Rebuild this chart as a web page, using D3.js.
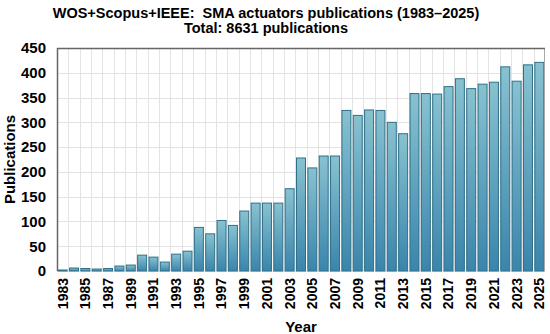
<!DOCTYPE html>
<meta charset="utf-8">
<style>
body { margin: 0; background: #fff; }
text { font-family: "Liberation Sans", Arial, sans-serif; font-weight: bold; fill: #000; }
.grid line { stroke: #e3e3e3; stroke-width: 1px; shape-rendering: crispEdges; }
.bar { stroke: #2f6f88; stroke-width: 1px; }
</style>
<body>
<div id="chart"></div>
<script src="https://cdn.jsdelivr.net/npm/d3@7"></script>
<script>
var years = d3.range(1983, 2026);
var counts = [2, 6, 5, 4, 5, 10, 12,
  32, 28, 18, 34, 40,
  88, 75, 102, 92, 121,
  137, 137, 137, 166, 228,
  208, 232, 232, 324, 314,
  325, 324, 300, 277, 358,
  358, 357, 372, 388, 368,
  377, 381, 412, 383, 416, 421];
var yTicks = [0, 50, 100, 150, 200, 250, 300, 350, 400, 450];
var titleLines = ["WOS+Scopus+IEEE:\u00a0 SMA actuators publications (1983\u20132025)",
  "Total: 8631 publications"];

var W = 550, H = 334,
    margin = {top: 48, right: 5, bottom: 63, left: 57},
    width = W - margin.left - margin.right,
    height = H - margin.top - margin.bottom;

var svg = d3.select("#chart").append("svg")
    .attr("width", W).attr("height", H);

var defs = svg.append("defs");
var grad = defs.append("linearGradient").attr("id", "barGrad")
    .attr("x1", 0).attr("y1", 0).attr("x2", 0).attr("y2", 1);
grad.append("stop").attr("offset", "0%").attr("stop-color", "#88c2d0");
grad.append("stop").attr("offset", "100%").attr("stop-color", "#3a85ac");

var g = svg.append("g").attr("transform", "translate(" + margin.left + "," + margin.top + ")");

var x = d3.scaleBand().domain(years).range([0, width]).paddingInner(0.12).paddingOuter(0.06);
var y = d3.scaleLinear().domain([0, 450]).range([height, 0]);

// grid
var grid = g.append("g").attr("class", "grid");
grid.selectAll(".hg").data(yTicks).enter().append("line")
    .attr("x1", 0).attr("x2", width)
    .attr("y1", function(d) { return Math.round(y(d)) + 0.5; })
    .attr("y2", function(d) { return Math.round(y(d)) + 0.5; });
var step = x.step();
grid.selectAll(".vg").data(years.slice(1)).enter().append("line")
    .attr("y1", 0).attr("y2", height)
    .attr("x1", function(d) { return Math.round(x(d) - step * x.paddingInner() / 2) + 0.5; })
    .attr("x2", function(d) { return Math.round(x(d) - step * x.paddingInner() / 2) + 0.5; });

// bars
g.selectAll(".bar").data(years).enter().append("rect")
    .attr("class", "bar")
    .attr("x", function(d) { return x(d) + 0.5; })
    .attr("width", x.bandwidth() - 1)
    .attr("y", function(d, i) { return y(counts[i]); })
    .attr("height", function(d, i) { return height - y(counts[i]); })
    .attr("fill", "url(#barGrad)");

// frame
g.append("line").attr("x1", width - 0.5).attr("x2", width - 0.5).attr("y1", 0).attr("y2", height)
    .attr("stroke", "#aaa");
g.append("line").attr("x1", 0).attr("x2", width).attr("y1", 0.5).attr("y2", 0.5)
    .attr("stroke", "#666").attr("stroke-width", 1.5);
g.append("line").attr("x1", 0.5).attr("x2", 0.5).attr("y1", 0).attr("y2", height)
    .attr("stroke", "#666").attr("stroke-width", 1.5);

// y axis
var yAxis = g.append("g").call(d3.axisLeft(y).tickValues(yTicks).tickSize(0).tickPadding(11));
yAxis.select(".domain").remove();
yAxis.selectAll("text").style("font-size", "15px").style("font-family", null).attr("fill", "#000");

// x axis
var xAxis = g.append("g").attr("transform", "translate(0," + height + ")")
    .call(d3.axisBottom(x).tickValues(years.filter(function(d) { return (d - 1983) % 2 === 0; }))
      .tickSize(0).tickPadding(0));
xAxis.select(".domain").remove();
xAxis.selectAll("text")
    .style("font-size", "14px").style("font-family", null).attr("fill", "#000")
    .attr("text-anchor", "end")
    .attr("transform", "rotate(-90)")
    .attr("x", -7).attr("y", 0).attr("dy", "0.35em");

// labels
svg.append("text").attr("x", margin.left + width / 2).attr("y", 332)
    .attr("text-anchor", "middle").style("font-size", "15px").text("Year");
svg.append("text").attr("transform", "translate(15," + (margin.top + height / 2) + ") rotate(-90)")
    .attr("text-anchor", "middle").style("font-size", "15px").text("Publications");

svg.selectAll(".title").data(titleLines).enter().append("text")
    .attr("x", 266)
    .attr("y", function(d, i) { return 18 + i * 15; })
    .attr("text-anchor", "middle").style("font-size", "14.5px")
    .text(function(d) { return d; });
</script>
</body>
